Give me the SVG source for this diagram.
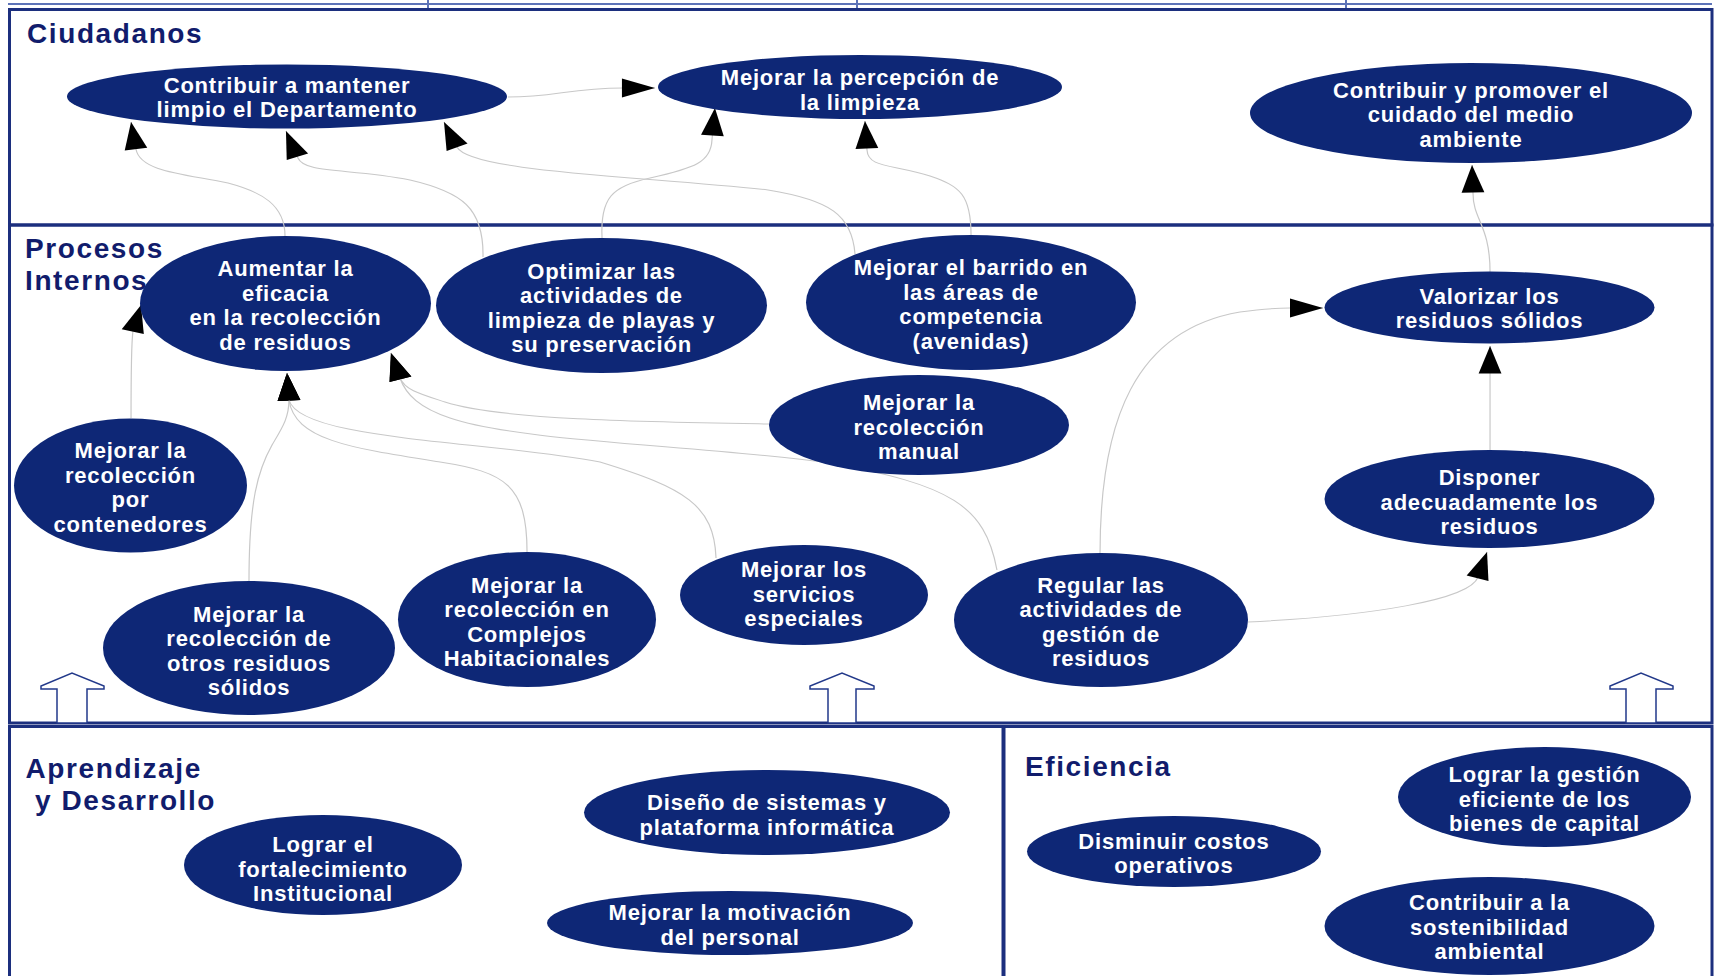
<svg xmlns="http://www.w3.org/2000/svg" width="1719" height="976" viewBox="0 0 1719 976">
<defs>
<style>
.frame{fill:none;stroke:#1c2f7e;stroke-width:3}
.thin{stroke:#5d73b8;stroke-width:2}
.title{font-family:"Liberation Sans",Arial,sans-serif;font-weight:bold;font-size:28px;letter-spacing:1.6px;fill:#111c6c}
.node ellipse{fill:#0e2776}
.node text{font-family:"Liberation Sans",Arial,sans-serif;font-weight:bold;font-size:22px;letter-spacing:0.8px;fill:#ffffff;text-anchor:middle}
.edge{fill:none;stroke:#c8c8c8;stroke-width:1;marker-end:url(#arr)}
.up{fill:#ffffff;stroke:#22398a;stroke-width:1.5}
</style>
<marker id="arr" markerUnits="userSpaceOnUse" markerWidth="28" markerHeight="19" viewBox="0 0 27.5 19" refX="27.5" refY="9.5" orient="auto" overflow="visible"><path d="M0,0 L27.5,9.5 L0,19 Z" fill="#000"/></marker>
</defs>
<rect x="0" y="0" width="1719" height="976" fill="#ffffff"/>

<g id="frames">
<line class="thin" x1="8" y1="4" x2="1712" y2="4"/>
<line class="thin" x1="428" y1="0" x2="428" y2="8"/>
<line class="thin" x1="857" y1="0" x2="857" y2="8"/>
<line class="thin" x1="1346" y1="0" x2="1346" y2="8"/>
<rect class="frame" x="9.5" y="9.5" width="1702.5" height="215.5"/>
<rect class="frame" x="9.5" y="225" width="1702.5" height="498"/>
<rect class="frame" x="9.5" y="726.5" width="993.5" height="300"/>
<rect class="frame" x="1004" y="726.5" width="708" height="300"/>
</g>

<g id="titles">
<text class="title" x="27" y="43">Ciudadanos</text>
<text class="title" x="25" y="258">Procesos</text>
<text class="title" x="25" y="290">Internos</text>
<text class="title" x="25.5" y="778">Aprendizaje</text>
<text class="title" x="35" y="810">y Desarrollo</text>
<text class="title" x="1025" y="776">Eficiencia</text>
</g>

<g id="up-arrows">
<polygon class="up" points="57,723 57,689 41,689 41,686 72,673 104,686 104,689 87,689 87,723"/>
<polygon class="up" points="828,723 828,689 810,689 810,686 842,673 874,686 874,689 856,689 856,723"/>
<polygon class="up" points="1626,723 1626,689 1610,689 1610,686 1641,673 1673,686 1673,689 1656,689 1656,723"/>
</g>

<g id="connectors" transform="scale(1.2 1)">
<path class="edge" d="M 423.3 97 C 462.5 97 475 88 519.2 88 L 545.8 88"/>
<path class="edge" d="M 237.5 236 C 237.5 205 218.3 192 190 183 C 154.2 174 116.7 172 113.3 149 L 109.2 122"/>
<path class="edge" d="M 402.5 257 C 403.3 208 385 192 341.7 180 C 291.7 168 254.2 174 248.3 158 L 238.3 131"/>
<path class="edge" d="M 712.5 254 C 710 215 691.7 200 640 190 C 533.3 176 391.7 172 380.8 147 L 370 122"/>
<path class="edge" d="M 501.7 238 C 500 198 510 186 541.7 178 C 579.2 168 592.5 162 593.3 140 L 595.8 108"/>
<path class="edge" d="M 809.2 235 C 809.2 195 800 186 775 176 C 743.3 164 723.3 168 722.5 150 L 720.8 121"/>
<path class="edge" d="M 1241.7 272 C 1241.7 225 1227.5 220 1227.5 193 L 1226.7 165"/>
<path class="edge" d="M 109.2 418 C 109.2 370 109.2 345 110.8 331 L 117.5 305"/>
<path class="edge" d="M 207.5 581 C 207.5 500 215 470 226.7 445 C 235 428 240.8 418 240.8 400 L 239.2 373"/>
<path class="edge" d="M 439.2 552 C 439.2 485 420.8 472 366.7 462 C 291.7 448 245.8 440 240.8 400 L 239.2 373"/>
<path class="edge" d="M 596.7 558 C 595 505 570.8 488 500 462 C 400 440 250 440 240.8 400 L 239.2 373"/>
<path class="edge" d="M 640.8 424 C 541.7 422 416.7 420 370.8 402 C 350 394 337.5 390 333.3 378 L 325.8 353"/>
<path class="edge" d="M 830.8 570 C 820.8 505 791.7 485 691.7 463 C 583.3 445 433.3 442 375 418 C 350 408 338.3 395 333.3 378 L 325.8 353"/>
<path class="edge" d="M 916.7 553 C 916.7 420 945.8 330 1033.3 312 C 1051.7 309 1062.5 308 1075 308 L 1102.5 308"/>
<path class="edge" d="M 1040 622 C 1141.7 616 1225 600 1231.7 577 L 1239.2 552"/>
<path class="edge" d="M 1241.7 450 L 1241.7 346"/>
</g>

<g id="n1" class="node"><ellipse cx="287" cy="96.5" rx="220" ry="32"/><text><tspan x="287" y="92.5">Contribuir a mantener</tspan><tspan x="287" y="117">limpio el Departamento</tspan></text></g>
<g id="n2" class="node"><ellipse cx="860" cy="87" rx="202" ry="32"/><text><tspan x="860" y="85">Mejorar la percepción de</tspan><tspan x="860" y="109.5">la limpieza</tspan></text></g>
<g id="n3" class="node"><ellipse cx="1471" cy="113" rx="221" ry="50"/><text><tspan x="1471" y="97.5">Contribuir y promover el</tspan><tspan x="1471" y="122">cuidado del medio</tspan><tspan x="1471" y="146.5">ambiente</tspan></text></g>
<g id="n4" class="node"><ellipse cx="285.5" cy="303.5" rx="145.5" ry="67.5"/><text><tspan x="285.5" y="276">Aumentar la</tspan><tspan x="285.5" y="300.5">eficacia</tspan><tspan x="285.5" y="325">en la recolección</tspan><tspan x="285.5" y="349.5">de residuos</tspan></text></g>
<g id="n5" class="node"><ellipse cx="601.5" cy="305.5" rx="165.5" ry="67.5"/><text><tspan x="601.5" y="278.5">Optimizar las</tspan><tspan x="601.5" y="303">actividades de</tspan><tspan x="601.5" y="327.5">limpieza de playas y</tspan><tspan x="601.5" y="352">su preservación</tspan></text></g>
<g id="n6" class="node"><ellipse cx="971" cy="302.5" rx="165" ry="67.5"/><text><tspan x="971" y="275">Mejorar el barrido en</tspan><tspan x="971" y="299.5">las áreas de</tspan><tspan x="971" y="324">competencia</tspan><tspan x="971" y="348.5">(avenidas)</tspan></text></g>
<g id="n7" class="node"><ellipse cx="1489.5" cy="307.5" rx="165" ry="36"/><text><tspan x="1489.5" y="303.5">Valorizar los</tspan><tspan x="1489.5" y="328">residuos sólidos</tspan></text></g>
<g id="n8" class="node"><ellipse cx="919" cy="425" rx="150" ry="50"/><text><tspan x="919" y="410">Mejorar la</tspan><tspan x="919" y="434.5">recolección</tspan><tspan x="919" y="459">manual</tspan></text></g>
<g id="n9" class="node"><ellipse cx="1489.5" cy="499" rx="165" ry="49"/><text><tspan x="1489.5" y="485">Disponer</tspan><tspan x="1489.5" y="509.5">adecuadamente los</tspan><tspan x="1489.5" y="534">residuos</tspan></text></g>
<g id="n10" class="node"><ellipse cx="130.5" cy="485.5" rx="116.5" ry="67"/><text><tspan x="130.5" y="458">Mejorar la</tspan><tspan x="130.5" y="482.5">recolección</tspan><tspan x="130.5" y="507">por</tspan><tspan x="130.5" y="531.5">contenedores</tspan></text></g>
<g id="n11" class="node"><ellipse cx="249" cy="648" rx="146" ry="67"/><text><tspan x="249" y="621.5">Mejorar la</tspan><tspan x="249" y="646">recolección de</tspan><tspan x="249" y="670.5">otros residuos</tspan><tspan x="249" y="695">sólidos</tspan></text></g>
<g id="n12" class="node"><ellipse cx="527" cy="619.5" rx="129" ry="67.5"/><text><tspan x="527" y="592.5">Mejorar la</tspan><tspan x="527" y="617">recolección en</tspan><tspan x="527" y="641.5">Complejos</tspan><tspan x="527" y="666">Habitacionales</tspan></text></g>
<g id="n13" class="node"><ellipse cx="804" cy="595" rx="124" ry="50"/><text><tspan x="804" y="577">Mejorar los</tspan><tspan x="804" y="601.5">servicios</tspan><tspan x="804" y="626">especiales</tspan></text></g>
<g id="n14" class="node"><ellipse cx="1101" cy="620" rx="147" ry="67"/><text><tspan x="1101" y="592.5">Regular las</tspan><tspan x="1101" y="617">actividades de</tspan><tspan x="1101" y="641.5">gestión de</tspan><tspan x="1101" y="666">residuos</tspan></text></g>
<g id="n15" class="node"><ellipse cx="323" cy="865" rx="139" ry="50"/><text><tspan x="323" y="852">Lograr el</tspan><tspan x="323" y="876.5">fortalecimiento</tspan><tspan x="323" y="901">Institucional</tspan></text></g>
<g id="n16" class="node"><ellipse cx="767" cy="812.5" rx="183" ry="42.5"/><text><tspan x="767" y="810">Diseño de sistemas y</tspan><tspan x="767" y="834.5">plataforma informática</tspan></text></g>
<g id="n17" class="node"><ellipse cx="730" cy="923" rx="183" ry="32"/><text><tspan x="730" y="920">Mejorar la motivación</tspan><tspan x="730" y="944.5">del personal</tspan></text></g>
<g id="n18" class="node"><ellipse cx="1174" cy="851.5" rx="147" ry="35.5"/><text><tspan x="1174" y="848.5">Disminuir costos</tspan><tspan x="1174" y="873">operativos</tspan></text></g>
<g id="n19" class="node"><ellipse cx="1544.5" cy="797" rx="146.5" ry="50"/><text><tspan x="1544.5" y="782">Lograr la gestión</tspan><tspan x="1544.5" y="806.5">eficiente de los</tspan><tspan x="1544.5" y="831">bienes de capital</tspan></text></g>
<g id="n20" class="node"><ellipse cx="1489.5" cy="926" rx="165" ry="49"/><text><tspan x="1489.5" y="910">Contribuir a la</tspan><tspan x="1489.5" y="934.5">sostenibilidad</tspan><tspan x="1489.5" y="959">ambiental</tspan></text></g>
</svg>
